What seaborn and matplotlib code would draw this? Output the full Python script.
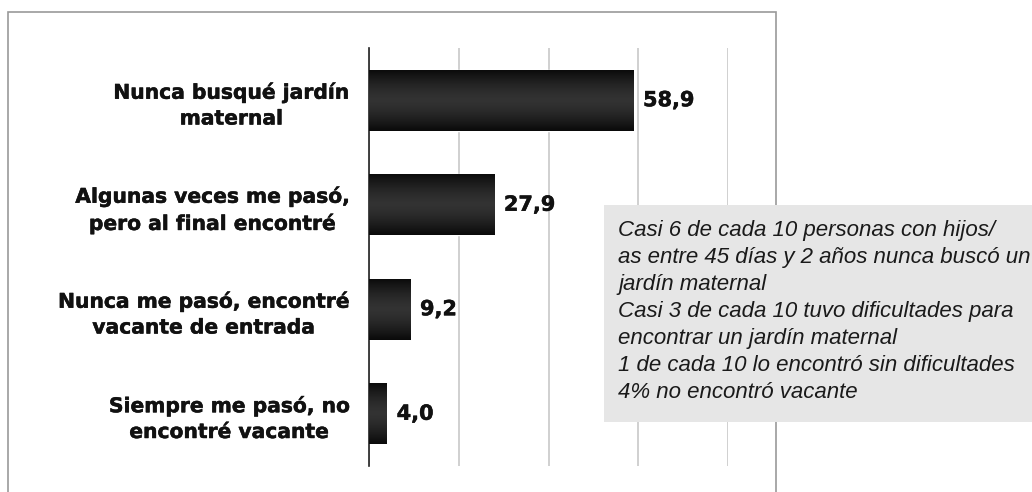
import numpy as np
import pandas as pd
import matplotlib
matplotlib.use('Agg')
import matplotlib.pyplot as plt
import matplotlib.patheffects as pe
import seaborn as sns
from matplotlib.patches import Rectangle

categorias = [
    'Nunca busqué jardín\nmaternal',
    'Algunas veces me pasó,\npero al final encontré',
    'Nunca me pasó, encontré\nvacante de entrada',
    'Siempre me pasó, no\nencontré vacante',
]
valores = [58.9, 27.9, 9.2, 4.0]
etiquetas = ['58,9', '27,9', '9,2', '4,0']
nota = [
    'Casi 6 de cada 10 personas con hijos/',
    'as entre 45 días y 2 años nunca buscó un',
    'jardín maternal',
    'Casi 3 de cada 10 tuvo dificultades para',
    'encontrar un jardín maternal',
    '1 de cada 10 lo encontró sin dificultades',
    '4% no encontró vacante',
]

sns.set_style('white')
plt.rcParams['font.family'] = ['DejaVu Sans']

df = pd.DataFrame({'cat': categorias, 'val': valores})

W, H = 1032, 492
fig = plt.figure(figsize=(W / 100, H / 100), dpi=100)
fig.patch.set_facecolor('white')

# marco exterior
fig.patches.append(Rectangle((8 / W, -0.1), (776 - 8) / W, 1.1 - 12 / H,
                             transform=fig.transFigure, fill=False,
                             edgecolor='#9a9a9a', linewidth=1.2))

ax = fig.add_axes([369 / W, 1 - 466 / H, (728 - 369) / W, (466 - 48) / H])
sns.barplot(data=df, y='cat', x='val', orient='h', color='#111111',
            width=0.585, saturation=1, ax=ax)
ax.set_xlim(0, 80)
ax.set_xticks([0, 20, 40, 60, 80])
ax.set_xticklabels([])
ax.tick_params(axis='x', length=0)
ax.tick_params(axis='y', length=0, pad=14)
ax.grid(axis='x', color='#c8c8c8', linewidth=1.2)
ax.set_axisbelow(True)
for s in ['top', 'right', 'bottom']:
    ax.spines[s].set_visible(False)
ax.spines['left'].set_color('#222222')
ax.spines['left'].set_linewidth(1.2)
ax.set_xlabel('')
ax.set_ylabel('')
grueso = [pe.withStroke(linewidth=0.35, foreground='#111111')]
ax.set_yticklabels(categorias, fontsize=14.6, fontweight='bold',
                   multialignment='center', color='#111111',
                   linespacing=1.45, path_effects=grueso)

# sombreado cilíndrico de las barras
grad = np.abs(np.linspace(-1, 1, 64))
grad = (0.2 - 0.16 * grad ** 1.5).reshape(-1, 1)
for p in ax.patches:
    x0, y0 = p.get_x(), p.get_y()
    w, h = p.get_width(), p.get_height()
    im = ax.imshow(grad, cmap='gray', vmin=0, vmax=1, aspect='auto',
                   extent=(x0, x0 + w, y0 + h, y0), zorder=3,
                   interpolation='bicubic')
    im.set_clip_path(p)
ax.set_xlim(0, 80)
ax.set_ylim(3.5, -0.5)

txts = ax.bar_label(ax.containers[0], labels=etiquetas, padding=7, fontsize=15,
                    fontweight='bold', color='#111111')
for t in txts:
    t.set_path_effects(grueso)

# cuadro de texto
fig.patches.append(Rectangle((604 / W, 1 - 422 / H), (W - 604) / W, (422 - 205) / H,
                             transform=fig.transFigure, facecolor='#e6e6e6',
                             edgecolor='none', zorder=5))
fig.text(618 / W, 1 - 220 / H, '\n'.join(nota), ha='left', va='top',
         fontsize=16, style='italic', family=['Liberation Sans', 'DejaVu Sans'],
         color='#1a1a1a', linespacing=1.37, zorder=6)

fig.savefig('out.png', dpi=100)
